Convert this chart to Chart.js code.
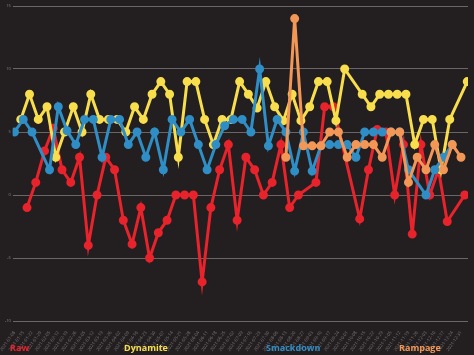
<!DOCTYPE html>
<html>
<head>
<meta charset="utf-8">
<script src="https://cdn.jsdelivr.net/npm/chart.js@4"></script>
<style>
  html, body { margin: 0; padding: 0; background: #231f20; }
  #wrap { width: 474px; height: 355px; position: relative; }
</style>
</head>
<body>
<div id="wrap"><canvas id="c"></canvas></div>
<script>
// Week labels (Fridays of 2021)
const weekLabels = [
  "2021-01-08","2021-01-15","2021-01-22","2021-01-29",
  "2021-02-05","2021-02-12","2021-02-19","2021-02-26",
  "2021-03-05","2021-03-12","2021-03-19","2021-03-26",
  "2021-04-02","2021-04-09","2021-04-16","2021-04-23","2021-04-30",
  "2021-05-07","2021-05-14","2021-05-21","2021-05-28",
  "2021-06-04","2021-06-11","2021-06-18","2021-06-25",
  "2021-07-02","2021-07-09","2021-07-16","2021-07-23","2021-07-30",
  "2021-08-06","2021-08-13","2021-08-20","2021-08-27",
  "2021-09-03","2021-09-10","2021-09-17","2021-09-24",
  "2021-10-01","2021-10-08","2021-10-15","2021-10-22","2021-10-29",
  "2021-11-05","2021-11-12","2021-11-19","2021-11-26",
  "2021-12-03","2021-12-10","2021-12-17","2021-12-24","2021-12-31"
];
const yTicks = [-10, -5, 0, 5, 10, 15];

const showNames = ["Raw", "Dynamite", "Smackdown", "Rampage"];
// day of week offset relative to the Friday of each week (in days)
const showDayOffsets = [3, 5, 0, 0];

const rawValues = [null,-1,1,3.5,5.3,2,1,3,-4,0,3,2,-2,-3.9,-1,-5,-3,-2,0,0,0,-6.9,-1,2,4,-2,3,2,0,1,4,-1,0,null,1,7,7,null,null,-1.9,2,5.2,5,0,4,-3.1,4,0,2,-2.1,null,0];
const dynamiteValues = [6,8,6,7,3,5,7,5,8,6,6,6,5,7,6,8,9,8,3,9,9,6,4,6,6,9,8,6.9,9,7,5.9,8,5.9,7,9,9,5.9,10,null,8,7,8,8,8,8,4,6,6,2,6,null,9];
const smackdownValues = [5,6,5,null,2,7,5.1,4,6,6,3,6,6,4,5,3,5,2,6,5,6,4,2,4,5.5,6,6,5,10,3.9,6,5,1.9,5,1.9,3.9,4,4,4,3,5,5,5,5,5,2,null,0,2,3,4,null];
const rampageValues = [null,null,null,null,null,null,null,null,null,null,null,null,null,null,null,null,null,null,null,null,null,null,null,null,null,null,null,null,null,null,null,3,14,3.9,3.9,3.9,5,5,3,4,4,4,3,5,5,1,3,2,4,2,4,3];

const seriesValues = [rawValues, dynamiteValues, smackdownValues, rampageValues];
const colors = ["#e8232b", "#f8de4c", "#2f8ec5", "#f39757"];
const drawOrder = [4, 3, 2, 1];

const datasets = showNames.map((name, s) => ({
  label: name,
  data: seriesValues[s].map((v, k) => ({ x: k + showDayOffsets[s] / 7, y: v })),
  borderColor: colors[s],
  backgroundColor: colors[s],
  pointBackgroundColor: colors[s],
  pointBorderColor: colors[s],
  borderWidth: 3,
  pointRadius: 3,
  pointHoverRadius: 3,
  tension: 0,
  spanGaps: true,
  order: drawOrder[s]
}));

const bgPlugin = {
  id: 'bg',
  beforeDraw(chart) {
    const ctx = chart.ctx;
    ctx.save();
    ctx.fillStyle = '#231f20';
    ctx.fillRect(0, 0, chart.width, chart.height);
    ctx.restore();
  }
};

const legendPlugin = {
  id: 'textLegend',
  afterDraw(chart) {
    const ctx = chart.ctx;
    const xs = [10, 124, 266, 399];
    ctx.save();
    ctx.font = 'bold 9px "Open Sans"';
    ctx.textBaseline = 'middle';
    ctx.textAlign = 'left';
    chart.data.datasets.forEach((ds, i) => {
      ctx.fillStyle = ds.borderColor;
      ctx.fillText(ds.label, xs[i], 348);
    });
    ctx.restore();
  }
};

new Chart(document.getElementById('c'), {
  type: 'line',
  data: { datasets },
  options: {
    responsive: true,
    maintainAspectRatio: false,
    animation: false,
    layout: { padding: { top: 0, right: 0, left: 0, bottom: 0 } },
    plugins: { legend: { display: false }, tooltip: { enabled: false } },
    scales: {
      x: {
        type: 'linear',
        min: -0.2,
        max: 51.8,
        grid: { display: false },
        border: { display: false },
        afterBuildTicks(axis) {
          axis.ticks = weekLabels.map((l, i) => ({ value: i }));
        },
        afterFit(axis) { axis.height = 34; },
        ticks: {
          autoSkip: false,
          minRotation: 55,
          maxRotation: 55,
          padding: 1,
          color: '#7a7676',
          font: { size: 4.5, family: 'Open Sans' },
          callback: (v) => weekLabels[v]
        }
      },
      y: {
        min: -10,
        max: 15,
        afterBuildTicks(axis) {
          axis.ticks = yTicks.map(v => ({ value: v }));
        },
        afterFit(axis) { axis.width = 10; },
        grid: { color: '#6a6666', lineWidth: 1, drawTicks: false },
        border: { display: false },
        ticks: {
          padding: 2,
          color: '#8a8686',
          font: { size: 4, family: 'Open Sans', lineHeight: 1 }
        }
      }
    }
  },
  plugins: [bgPlugin, legendPlugin]
});
</script>
</body>
</html>
